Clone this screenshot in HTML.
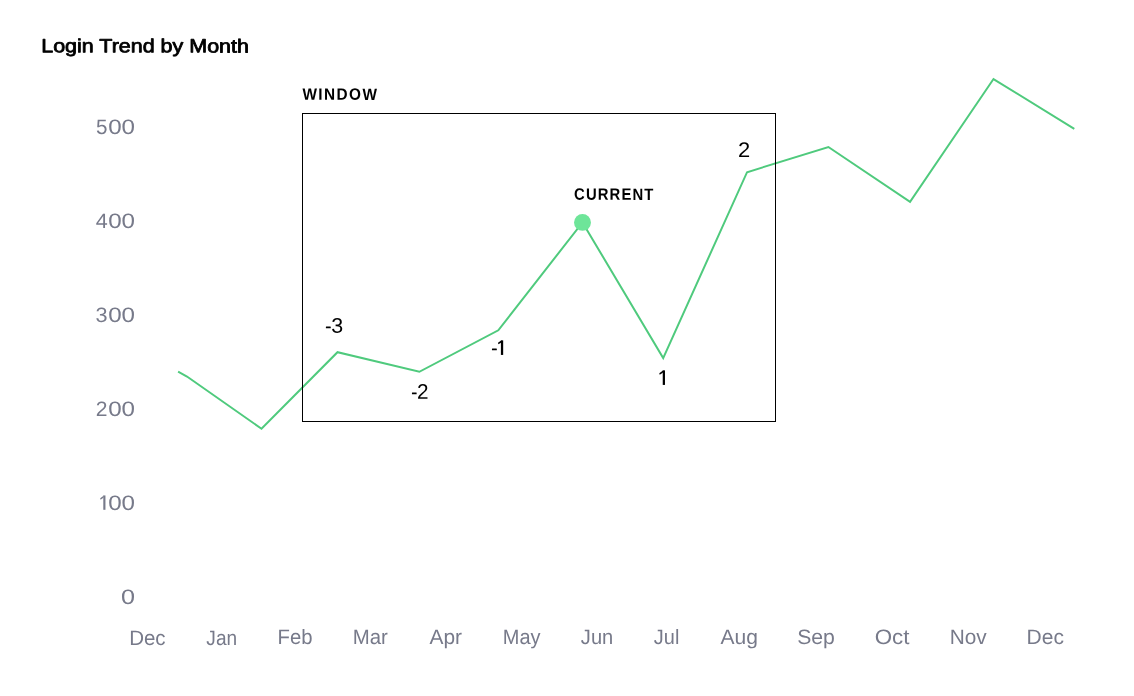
<!DOCTYPE html>
<html>
<head>
<meta charset="utf-8">
<title>Login Trend by Month</title>
<style>
html,body{margin:0;padding:0;background:#fff;}
body{width:1134px;height:696px;overflow:hidden;font-family:"Liberation Sans",sans-serif;}
svg{display:block;will-change:transform;}
text{font-family:"Liberation Sans",sans-serif;}
</style>
</head>
<body>
<svg width="1134" height="696" viewBox="0 0 1134 696">
<rect x="0" y="0" width="1134" height="696" fill="#ffffff"/>
<polyline fill="none" stroke="#4fca7d" stroke-width="2" stroke-linejoin="miter" stroke-linecap="butt" points="178.1,371.7 187,376.5 261.5,428.75 337.5,352.2 419.35,371.8 498.3,330.3 582.5,222.4 663.2,358.1 747.05,172.2 828.4,147.0 910.05,201.9 993.5,79.05 1074.3,128.9"/>
<circle cx="582.5" cy="222.4" r="8.45" fill="#6ee599"/>
<rect x="302.5" y="113.5" width="473" height="308" fill="none" stroke="#000" stroke-width="1"/>
<text transform="matrix(1.1356 0.001 0 1 41.21 52.24)" style="font-size:18.92px;font-weight:normal;fill:#000;stroke:#000;stroke-width:0.798px;stroke-linejoin:round;">Login Trend by Month</text>
<text transform="matrix(0.9875 0.001 0 1 96.07 133.90)" style="font-size:20.9px;font-weight:normal;fill:#777a8a;">5</text>
<text transform="matrix(1.1567 0.001 0 1 108.13 133.90)" style="font-size:20.9px;font-weight:normal;fill:#777a8a;">00</text>
<text transform="matrix(1.0320 0.001 0 1 95.87 227.90)" style="font-size:20.9px;font-weight:normal;fill:#777a8a;">4</text>
<text transform="matrix(1.1567 0.001 0 1 108.13 227.90)" style="font-size:20.9px;font-weight:normal;fill:#777a8a;">00</text>
<text transform="matrix(1.0384 0.001 0 1 95.43 321.90)" style="font-size:20.9px;font-weight:normal;fill:#777a8a;">3</text>
<text transform="matrix(1.1567 0.001 0 1 108.13 321.90)" style="font-size:20.9px;font-weight:normal;fill:#777a8a;">00</text>
<text transform="matrix(1.0089 0.001 0 1 95.75 415.90)" style="font-size:20.9px;font-weight:normal;fill:#777a8a;">2</text>
<text transform="matrix(1.1567 0.001 0 1 108.13 415.90)" style="font-size:20.9px;font-weight:normal;fill:#777a8a;">00</text>
<text transform="matrix(1.1567 0.001 0 1 108.13 509.90)" style="font-size:20.9px;font-weight:normal;fill:#777a8a;">00</text>
<text transform="matrix(1.2061 0.001 0 1 120.99 603.90)" style="font-size:20.9px;font-weight:normal;fill:#777a8a;">0</text>
<text transform="matrix(0.9816 0.001 0 1 129.16 645.07)" style="font-size:20.9px;font-weight:normal;fill:#777a8a;">Dec</text>
<text transform="matrix(0.9135 0.001 0 1 206.37 645.07)" style="font-size:20.9px;font-weight:normal;fill:#777a8a;">Jan</text>
<text transform="matrix(0.9719 0.001 0 1 277.57 643.90)" style="font-size:20.9px;font-weight:normal;fill:#777a8a;">Feb</text>
<text transform="matrix(0.9760 0.001 0 1 352.67 643.90)" style="font-size:20.9px;font-weight:normal;fill:#777a8a;">Mar</text>
<text transform="matrix(1.0020 0.001 0 1 429.50 643.90)" style="font-size:20.9px;font-weight:normal;fill:#777a8a;">Apr</text>
<text transform="matrix(0.9569 0.001 0 1 502.80 643.90)" style="font-size:20.9px;font-weight:normal;fill:#777a8a;">May</text>
<text transform="matrix(0.9616 0.001 0 1 580.85 643.90)" style="font-size:20.9px;font-weight:normal;fill:#777a8a;">Jun</text>
<text transform="matrix(0.9549 0.001 0 1 653.85 643.90)" style="font-size:20.9px;font-weight:normal;fill:#777a8a;">Jul</text>
<text transform="matrix(1.0073 0.001 0 1 720.40 643.90)" style="font-size:20.9px;font-weight:normal;fill:#777a8a;">Aug</text>
<text transform="matrix(1.0164 0.001 0 1 797.14 643.90)" style="font-size:20.9px;font-weight:normal;fill:#777a8a;">Sep</text>
<text transform="matrix(1.0686 0.001 0 1 874.68 643.90)" style="font-size:20.9px;font-weight:normal;fill:#777a8a;">Oct</text>
<text transform="matrix(0.9966 0.001 0 1 949.63 643.90)" style="font-size:20.9px;font-weight:normal;fill:#777a8a;">Nov</text>
<text transform="matrix(1.0056 0.001 0 1 1026.62 643.90)" style="font-size:20.9px;font-weight:normal;fill:#777a8a;">Dec</text>
<text transform="matrix(1.0174 0.001 0 1 331.21 332.80)" style="font-size:21.1px;font-weight:normal;fill:#000;">3</text>
<text transform="matrix(0.9819 0.001 0 1 416.90 398.80)" style="font-size:21.1px;font-weight:normal;fill:#000;">2</text>
<text transform="matrix(1.0406 0.001 0 1 738.10 157.00)" style="font-size:21.1px;font-weight:normal;fill:#000;">2</text>
<text transform="matrix(0.9300 0.001 0 1 302.40 99.82)" style="font-size:16.5px;font-weight:bold;fill:#000;letter-spacing:1.556px;">WINDOW</text>
<text transform="matrix(0.9000 0.001 0 1 574.11 199.82)" style="font-size:16.5px;font-weight:bold;fill:#000;letter-spacing:1.236px;">CURRENT</text>
<rect x="325.90" y="326.60" width="4.86" height="1.7" rx="0.3" fill="#000"/><rect x="411.96" y="392.55" width="4.67" height="1.7" rx="0.3" fill="#000"/><rect x="491.96" y="348.60" width="4.86" height="1.7" rx="0.3" fill="#000"/>
<rect x="103.30" y="495.43" width="2.15" height="14.37" fill="#777a8a"/><polygon points="103.90,495.43 100.20,498.20 100.60,499.65 103.40,497.83" fill="#777a8a"/><rect x="500.90" y="340.35" width="2.27" height="14.58" fill="#000"/><polygon points="501.50,340.35 498.00,342.70 498.40,344.15 501.00,342.75" fill="#000"/><rect x="662.74" y="370.35" width="2.24" height="14.58" fill="#000"/><polygon points="663.34,370.35 659.30,373.30 659.70,374.75 662.84,372.75" fill="#000"/>
</svg>
</body>
</html>
